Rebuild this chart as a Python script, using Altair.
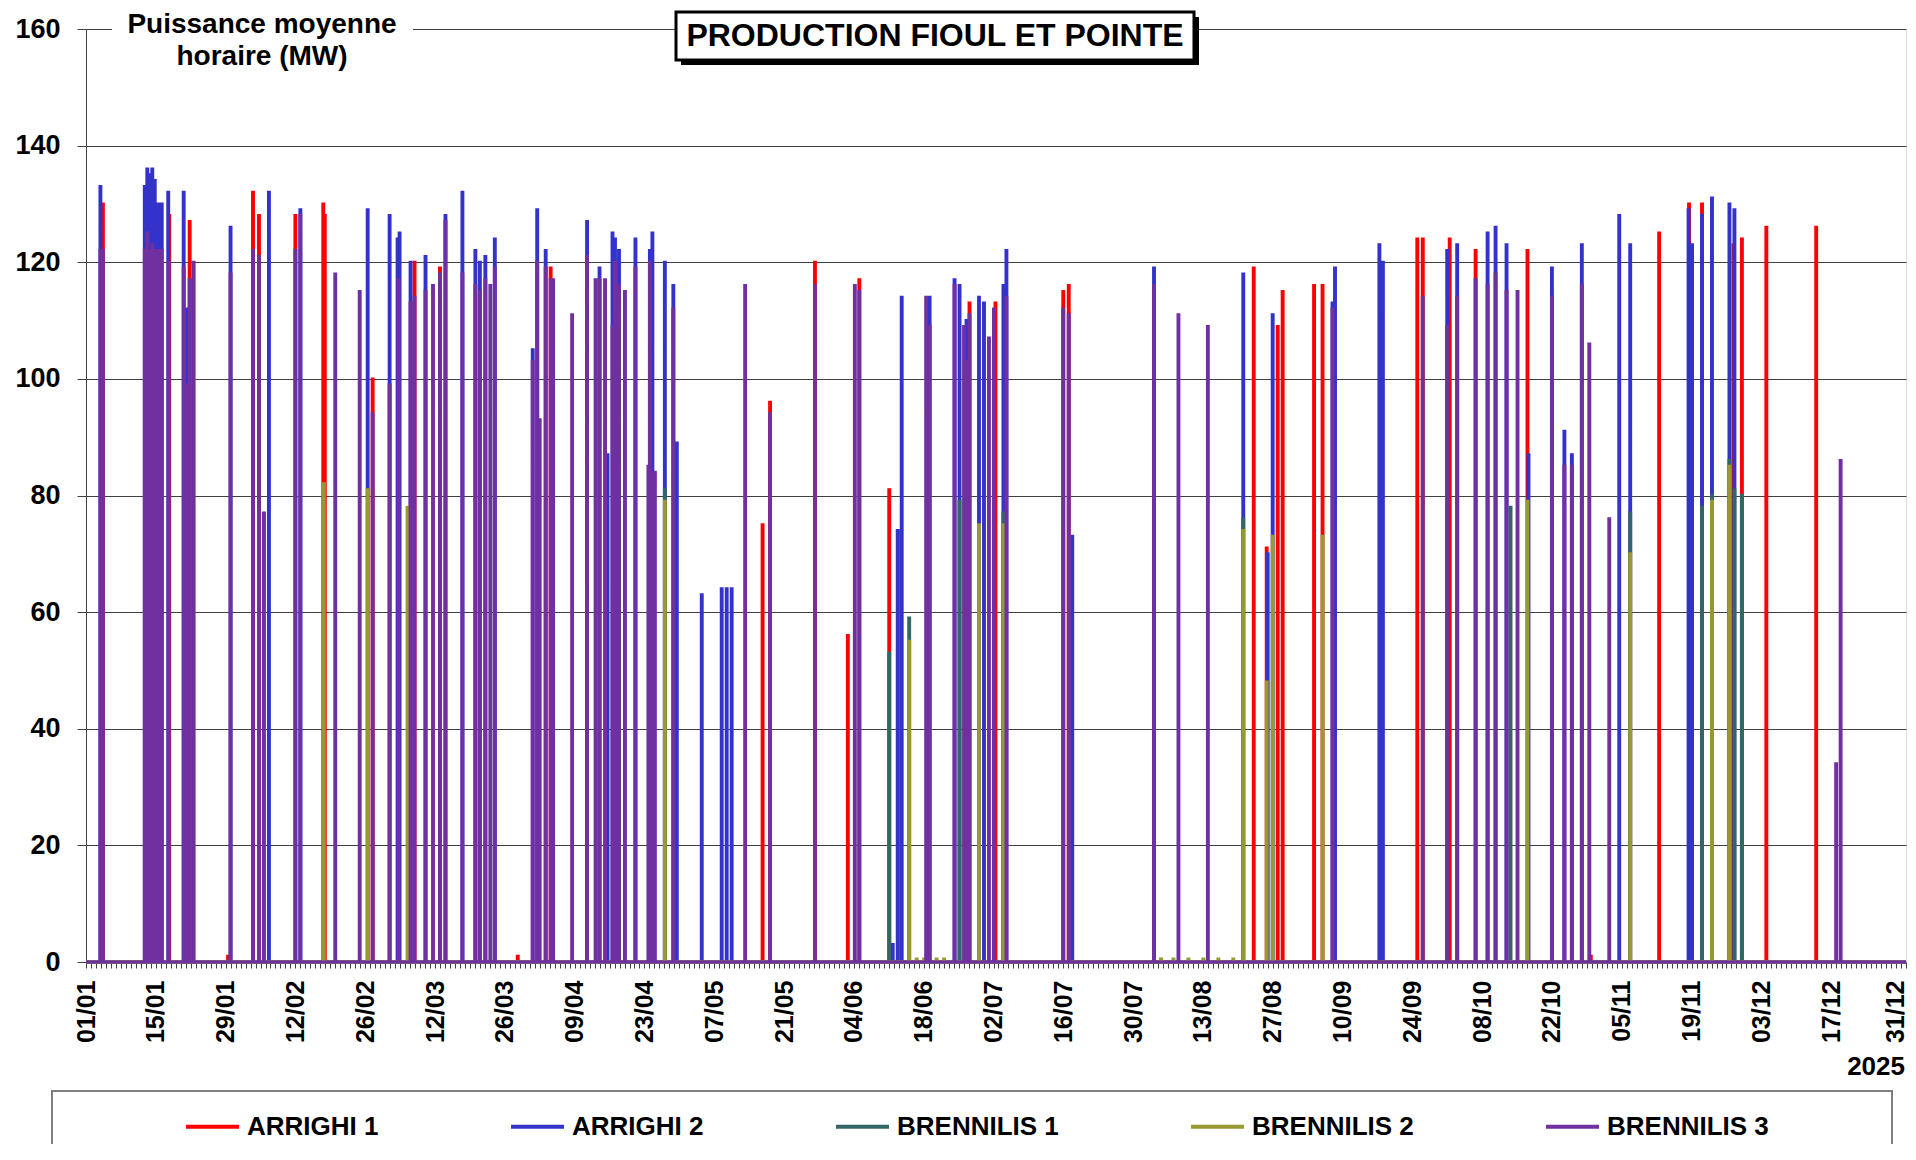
import altair as alt
import pandas as pd

# ---------------- data ----------------
SERIES = ["ARRIGHI 1", "ARRIGHI 2", "BRENNILIS 1", "BRENNILIS 2", "BRENNILIS 3"]
COLORS = ["#FF0000", "#3333CC", "#336666", "#999933", "#7030A0"]

# day of year (0 = 01/01 00h) and hourly mean power (MW) of each run
A1_DAY = [3.3, 16.6, 20.7, 28.4, 33.4, 34.6, 41.9, 47.5, 47.8, 57.4, 65.8, 70.9, 86.5,
          93.1, 135.6, 137.1, 146.1, 152.7, 155.0, 161.0, 177.1, 182.3, 195.9, 197.0,
          234.1, 236.7, 238.9, 239.9, 246.2, 247.9, 266.9, 268.0, 273.4, 278.6, 289.0,
          301.7, 315.4, 321.4, 324.0, 330.3, 332.0, 336.9, 346.9]
A1_MW = [130, 128, 127, 1, 132, 128, 128, 130, 128, 100, 120, 119, 1,
         119, 75, 96, 120, 56, 117, 81, 113, 113, 115, 116,
         119, 71, 109, 115, 116, 116, 124, 124, 124, 122, 122,
         1, 125, 130, 130, 123, 124, 126, 126]

A2_DAY = [2.8, 11.7, 12.2, 12.7, 13.2, 13.7, 14.2, 14.7, 15.1, 16.4, 19.5, 20.3, 28.9,
          36.6, 42.9, 56.4, 60.8, 62.4, 62.8, 65.0, 68.0, 72.0, 75.4, 78.0, 78.9, 80.0,
          81.9, 89.5, 90.4, 92.1, 100.4, 102.9, 104.5, 105.5, 106.0, 106.8, 110.1, 113.0,
          113.5, 116.0, 117.7, 118.4, 123.4, 127.4, 128.4, 129.4, 161.7, 162.7, 163.5,
          169.1, 174.1, 175.1, 176.5, 179.0, 180.0, 183.9, 184.5, 197.7, 214.1, 232.0,
          236.9, 237.9, 249.9, 250.4, 259.3, 260.0, 272.9, 274.9, 281.0, 282.6, 284.8,
          289.2, 293.9, 296.4, 297.9, 299.9, 307.4, 309.6, 321.3, 322.0, 324.0, 326.0,
          329.5, 330.5]
A2_MW = [133, 133, 136, 135, 136, 134, 130, 130, 130, 132, 132, 112, 126,
         132, 129, 129, 128, 124, 125, 120, 121, 128, 132, 122, 120, 121,
         124, 105, 129, 122, 127, 119, 87, 125, 124, 122, 124, 122,
         125, 120, 116, 89, 63, 64, 64, 64, 3, 74, 114,
         114, 117, 116, 110, 114, 113, 116, 122, 73, 119, 118,
         70, 111, 113, 119, 123, 120, 122, 123, 125, 126, 123,
         87, 119, 91, 87, 123, 128, 123, 129, 123, 128, 131,
         130, 129]

B1_DAY = [116.0, 161.0, 165.0, 175.1, 183.9, 232.0, 285.6, 309.6, 324.0, 326.0, 329.5,
          330.5, 332.0]
B1_MW = [81, 53, 59, 79, 77, 76, 78, 77, 78, 80, 86, 81, 80]

B2_DAY = [14.7, 47.6, 56.4, 64.4, 116.0, 165.0, 166.5, 168.0, 170.5, 172.0, 179.0,
          183.9, 215.5, 218.0, 221.0, 224.0, 227.0, 230.0, 232.0, 236.7, 237.9,
          247.9, 289.0, 309.6, 326.0, 329.5]
B2_MW = [76, 82, 81, 78, 79, 55, 0.5, 0.5, 0.5, 0.5, 75,
         75, 0.5, 0.5, 0.5, 0.5, 0.5, 0.5, 74, 48, 73,
         73, 79, 70, 79, 85]

B3_DAY = [2.8, 3.3, 11.7, 12.2, 12.7, 13.2, 13.7, 14.2, 14.7, 15.1, 16.5, 19.5, 20.3,
          20.7, 21.5, 28.9, 33.4, 34.6, 35.6, 41.9, 42.9, 49.9, 54.8, 57.4, 60.8, 62.6,
          65.0, 65.8, 68.0, 69.5, 70.9, 72.0, 75.4, 78.0, 78.9, 80.0, 81.0, 81.9, 89.5,
          90.4, 90.9, 92.1, 93.1, 93.6, 97.4, 100.4, 102.1, 102.9, 104.0, 105.5, 106.0,
          106.8, 108.0, 110.1, 112.7, 113.0, 113.5, 114.0, 117.7, 132.1, 137.1, 146.1,
          154.1, 155.0, 168.4, 169.1, 174.1, 176.0, 176.5, 177.1, 181.0, 182.0, 184.5,
          195.9, 197.0, 214.1, 219.0, 224.9, 249.9, 268.0, 272.9, 274.9, 278.6, 281.0,
          282.6, 284.8, 287.0, 293.9, 296.4, 297.9, 299.9, 301.4, 305.4, 350.9, 351.8]
B3_MW = [122, 122, 122, 125, 122, 123, 122, 122, 122, 122, 120, 119, 99,
         117, 120, 118, 122, 121, 77, 122, 128, 118, 115, 94, 99, 117,
         113, 114, 115, 116, 118, 127, 118, 116, 115, 117, 116, 119, 103,
         120, 93, 119, 117, 117, 111, 121, 117, 117, 117, 109, 120,
         116, 115, 119, 85, 120, 84, 84, 112, 116, 94, 116,
         116, 115, 114, 109, 116, 109, 103, 111, 107, 112, 114,
         112, 111, 116, 111, 109, 112, 114, 109, 114, 117, 116,
         118, 115, 115, 114, 85, 85, 116, 106, 76, 34, 86]

X_LABELS = ["01/01", "15/01", "29/01", "12/02", "26/02", "12/03", "26/03", "09/04",
            "23/04", "07/05", "21/05", "04/06", "18/06", "02/07", "16/07", "30/07",
            "13/08", "27/08", "10/09", "24/09", "08/10", "22/10", "05/11", "19/11",
            "03/12", "17/12", "31/12"]
Y_TICKS = [0, 20, 40, 60, 80, 100, 120, 140, 160]
TITLE = "PRODUCTION FIOUL ET POINTE"
Y_TITLE = "Puissance moyenne\nhoraire (MW)"
YEAR = "2025"

# ---------------- build hourly-like series ----------------
RUN = 0.18  # length of one run, in days
rows = []
for name, days, mws in zip(SERIES,
                           [A1_DAY, A2_DAY, B1_DAY, B2_DAY, B3_DAY],
                           [A1_MW, A2_MW, B1_MW, B2_MW, B3_MW]):
    pts = [(0.0, 0.0)]
    for d, v in sorted(zip(days, mws)):
        pts += [(d, 0.0), (d, v), (d + RUN, v), (d + RUN, 0.0)]
    pts.append((365.0, 0.0))
    for i, (d, v) in enumerate(pts):
        rows.append({"serie": name, "jour": d, "mw": v, "ordre": i})
df = pd.DataFrame(rows)

FONT = "Liberation Sans"
label_js = "[" + ",".join("'%s'" % s for s in X_LABELS) + "]"
last_tick = 14 * (len(X_LABELS) - 1)

xaxis = alt.Axis(values=list(range(0, 366)),
                 labelExpr="datum.value % 14 == 0 ? " + label_js + "[datum.value / 14] : ''",
                 labelAngle=270, labelFont=FONT, labelFontWeight="bold", labelFontSize=25,
                 labelColor="black", labelOverlap=False, labelPadding=12, labelFlush=False,
                 labelOffset={"condition": {"test": "datum.value == %d" % last_tick, "value": -6},
                              "value": 0},
                 tickSize=6, tickColor="#404040", tickWidth=1, domainColor="#808080",
                 grid=False, title=None)
yaxis = alt.Axis(values=Y_TICKS, grid=True, gridColor="#404040", gridWidth=1,
                 domainColor="#404040", tickColor="#404040", tickSize=9,
                 labelFont=FONT, labelFontWeight="bold", labelFontSize=27,
                 labelColor="black", labelPadding=17, title=None)
legend = alt.Legend(orient="none", legendX=98, legendY=1069, direction="horizontal",
                    columns=5, title=None, symbolType="stroke", symbolSize=2809,
                    symbolStrokeWidth=4, labelFont=FONT, labelFontWeight="bold",
                    labelFontSize=26, labelColor="black", labelOffset=6,
                    columnPadding=124, padding=0, labelLimit=0)

base = alt.Chart(df)
layers = []
for name in SERIES:
    layers.append(
        base.transform_filter(alt.datum.serie == name)
        .mark_line(strokeWidth=3, strokeJoin="miter")
        .encode(
            x=alt.X("jour:Q", scale=alt.Scale(domain=[0, 365], nice=False, zero=False), axis=xaxis),
            y=alt.Y("mw:Q", scale=alt.Scale(domain=[0, 160], nice=False), axis=yaxis),
            color=alt.Color("serie:N", scale=alt.Scale(domain=SERIES, range=COLORS), legend=legend),
            order=alt.Order("ordre:Q"),
        )
    )

one = pd.DataFrame({"k": [0]})

# y-axis title (white background hides the top gridline)
ytitle_bg = alt.Chart(one).mark_rect(color="white").encode(
    x=alt.value(26), x2=alt.value(327), y=alt.value(-19), y2=alt.value(42))
ytitle = alt.Chart(pd.DataFrame({"t": [Y_TITLE]})).mark_text(
    font=FONT, fontWeight="bold", fontSize=28, lineBreak="\n", lineHeight=32,
    align="center", baseline="middle", color="black").encode(
    x=alt.value(176), y=alt.value(-4), text="t:N")

# boxed title with shadow
shadow = alt.Chart(one).mark_rect(color="black").encode(
    x=alt.value(595), x2=alt.value(1113), y=alt.value(-12), y2=alt.value(36))
tbox = alt.Chart(one).mark_rect(fill="white", stroke="black", strokeWidth=3).encode(
    x=alt.value(590), x2=alt.value(1108), y=alt.value(-17), y2=alt.value(31))
ttext = alt.Chart(pd.DataFrame({"t": [TITLE]})).mark_text(
    font=FONT, fontWeight="bold", fontSize=32, align="center", baseline="middle",
    color="black").encode(x=alt.value(849), y=alt.value(7), text="t:N")

year = alt.Chart(pd.DataFrame({"t": [YEAR]})).mark_text(
    font=FONT, fontWeight="bold", fontSize=26, align="right", baseline="middle",
    color="black").encode(x=alt.value(1819), y=alt.value(1038), text="t:N")

frame = alt.Chart(one).mark_rect(fill="white", fillOpacity=0, stroke="#7f7f7f",
                                 strokeWidth=2).encode(
    x=alt.value(-34), x2=alt.value(1806), y=alt.value(1062), y2=alt.value(1200))

chart = alt.layer(*layers, ytitle_bg, ytitle, shadow, tbox, ttext, year, frame).properties(
    width=1820, height=933,
    autosize=alt.AutoSizeParams(type="none"),
    padding={"left": 78, "top": 21, "right": 2, "bottom": 182},
).configure_view(stroke=None).configure(background="white")

chart.save("out.html", embed_options={"renderer": "svg", "actions": False})
